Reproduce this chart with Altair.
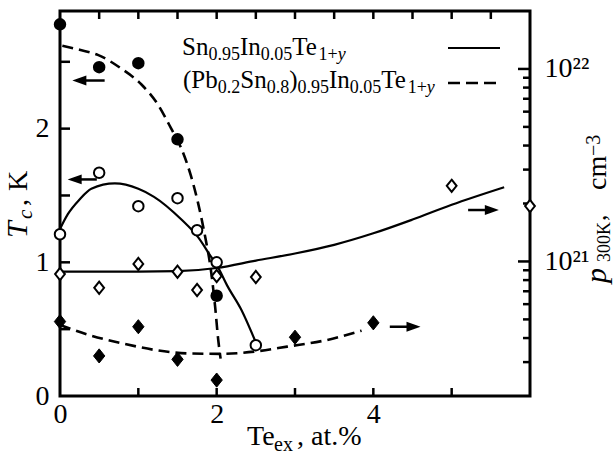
import altair as alt
import pandas as pd

FONT = "Liberation Serif"

# ---------------- data ----------------
# Tc (left axis) — (Pb0.2Sn0.8)0.95In0.05Te1+y, filled circles
tc_pbsn_x = [0.0, 0.5, 1.0, 1.5, 2.0]
tc_pbsn_y = [2.78, 2.46, 2.49, 1.92, 0.75]
# Tc (left axis) — Sn0.95In0.05Te1+y, open circles
tc_sn_x = [0.0, 0.5, 1.0, 1.5, 1.75, 2.0, 2.5]
tc_sn_y = [1.21, 1.67, 1.42, 1.48, 1.24, 1.00, 0.38]
# p300K (right axis) — Sn sample, open diamonds
p_sn_x = [0.0, 0.5, 1.0, 1.5, 1.75, 2.0, 2.5, 5.0, 6.0]
p_sn_y = [8.6e20, 7.3e20, 9.7e20, 8.85e20, 7.1e20, 8.4e20, 8.3e20, 2.47e21, 1.94e21]
# p300K (right axis) — PbSn sample, filled diamonds
p_pbsn_x = [0.0, 0.5, 1.0, 1.5, 2.0, 3.0, 4.0]
p_pbsn_y = [4.87e20, 3.23e20, 4.58e20, 3.10e20, 2.42e20, 4.04e20, 4.80e20]

# guide curves
fit_tc_pbsn_x = [0.03, 0.25, 0.49, 0.78, 1.04, 1.25, 1.42, 1.55, 1.67, 1.76, 1.86, 1.92, 1.98, 2.02, 2.05]
fit_tc_pbsn_y = [2.62, 2.59, 2.55, 2.45, 2.33, 2.18, 2.00, 1.85, 1.65, 1.45, 1.17, 0.97, 0.67, 0.42, 0.28]
fit_tc_sn_x = [0.0, 0.1, 0.25, 0.4, 0.7, 1.0, 1.2, 1.55, 1.76, 1.93, 2.01, 2.14, 2.31, 2.5]
fit_tc_sn_y = [1.25, 1.36, 1.47, 1.55, 1.59, 1.55, 1.49, 1.32, 1.19, 1.04, 0.97, 0.82, 0.65, 0.40]
fit_p_sn_x = [0.0, 0.5, 1.0, 1.5, 2.0, 2.5, 3.0, 3.5, 4.0, 4.5, 5.0, 5.67]
fit_p_sn_y = [8.85e20, 8.85e20, 8.85e20, 8.9e20, 9.25e20, 1.01e21, 1.1e21, 1.22e21, 1.4e21, 1.65e21, 1.97e21, 2.43e21]
fit_p_pbsn_x = [0.0, 0.37, 0.79, 1.21, 1.63, 2.06, 2.48, 2.9, 3.41, 3.85]
fit_p_pbsn_y = [4.68e20, 4.15e20, 3.76e20, 3.47e20, 3.33e20, 3.31e20, 3.40e20, 3.61e20, 3.91e20, 4.37e20]

# arrows (shaft start/end; the head sits at the end)
tc_arrows_x0 = [0.57, 0.47]
tc_arrows_x1 = [0.26, 0.20]
tc_arrows_y = [2.36, 1.62]
p_arrows_x0 = [5.21, 4.21]
p_arrows_x1 = [5.50, 4.50]
p_arrows_y = [1.85e21, 4.58e20]

# tick positions
x_labels = [0, 2, 4]
x_ticks_bottom = [1, 2, 3, 4, 5]
x_ticks_top = [0.5, 1, 1.5, 2, 2.5, 3, 3.5, 4, 4.5, 5, 5.5]
tc_labels = [0, 1, 2]
tc_ticks = [0.5, 1, 1.5, 2, 2.5]
p_labels = [1e21, 1e22]
p_minor = [3e20, 4e20, 5e20, 6e20, 7e20, 8e20, 9e20,
           2e21, 3e21, 4e21, 5e21, 6e21, 7e21, 8e21, 9e21]

# ---------------- layout constants ----------------
W, H = 470, 385
XDOM = [0, 6]
TDOM = [0, 2.88]
PDOM = [2e20, 2e22]
# tick lengths in pixels, turned into data units through the axis spans
TICK_V = 8 * (TDOM[1] - TDOM[0]) / H
TICK_L = 10 * (XDOM[1] - XDOM[0]) / W
TICK_RMIN = 7 * (XDOM[1] - XDOM[0]) / W
TICK_RMAJ = 12 * (XDOM[1] - XDOM[0]) / W

xs = alt.Scale(domain=XDOM, nice=False, zero=False)
ts = alt.Scale(domain=TDOM, nice=False, zero=False)
ps = alt.Scale(type="log", domain=PDOM, nice=False)

x_axis = alt.Axis(values=x_labels, title=None, labelFont=FONT, labelFontSize=28,
                  labelColor="black", domain=False, ticks=False, grid=False,
                  labelPadding=4, labelFlush=False, format="d")
t_axis = alt.Axis(values=tc_labels, title=None, labelFont=FONT, labelFontSize=28,
                  labelColor="black", domain=False, ticks=False, grid=False,
                  labelPadding=11, labelFlush=False, format="d")
p_axis = alt.Axis(orient="right", values=p_labels, title=None, labelFont=FONT,
                  labelFontSize=28, labelColor="black", domain=False, ticks=False,
                  grid=False, labelPadding=14, labelFlush=False, labelAlign="left",
                  labelExpr="datum.value > 5e21 ? '10²²' : '10²¹'")


def X(f="x"):
    return alt.X(f"{f}:Q", scale=xs, axis=x_axis)


def T(f="T"):
    return alt.Y(f"{f}:Q", scale=ts, axis=t_axis)


def P(f="p"):
    return alt.Y(f"{f}:Q", scale=ps, axis=p_axis)


def df(x, y, name):
    return pd.DataFrame({"x": x, name: y})


DIAMOND = "M0,-1L0.8,0L0,1L-0.8,0Z"
HEAD_L = "M-1,0L1,-0.7L1,0.7Z"
HEAD_R = "M1,0L-1,-0.7L-1,0.7Z"
TICK = dict(color="black", strokeWidth=2.5)

# tick segment tables (start and end of each tick in data units)
ticks_bottom = pd.DataFrame({"x": x_ticks_bottom, "T": TDOM[0], "T2": TDOM[0] + TICK_V})
ticks_top = pd.DataFrame({"x": x_ticks_top, "T": TDOM[1], "T2": TDOM[1] - TICK_V})
ticks_left = pd.DataFrame({"T": tc_ticks, "x": XDOM[0], "x2": XDOM[0] + TICK_L})
ticks_right = pd.DataFrame({
    "p": p_minor + p_labels,
    "x": XDOM[1],
    "x2": [XDOM[1] - TICK_RMIN] * len(p_minor) + [XDOM[1] - TICK_RMAJ] * len(p_labels),
})

# ---------- Tc group ----------
tc_layers = []
tc_layers.append(alt.Chart(ticks_bottom).mark_rule(**TICK).encode(x=X(), y=T(), y2="T2:Q"))
tc_layers.append(alt.Chart(ticks_top).mark_rule(**TICK).encode(x=X(), y=T(), y2="T2:Q"))
tc_layers.append(alt.Chart(ticks_left).mark_rule(**TICK).encode(x=X(), x2="x2:Q", y=T()))
tc_layers.append(alt.Chart(df(fit_tc_pbsn_x, fit_tc_pbsn_y, "T")).mark_line(
    color="black", strokeWidth=2.6, strokeDash=[11, 6], interpolate="monotone").encode(x=X(), y=T()))
tc_layers.append(alt.Chart(df(fit_tc_sn_x, fit_tc_sn_y, "T")).mark_line(
    color="black", strokeWidth=2.2, interpolate="monotone").encode(x=X(), y=T()))
tc_layers.append(alt.Chart(df(tc_pbsn_x, tc_pbsn_y, "T")).mark_point(
    shape="circle", filled=True, fill="black", stroke="black", size=110, opacity=1).encode(x=X(), y=T()))
tc_layers.append(alt.Chart(df(tc_sn_x, tc_sn_y, "T")).mark_point(
    shape="circle", filled=True, fill="white", stroke="black", strokeWidth=2, size=110, opacity=1).encode(x=X(), y=T()))
tca = pd.DataFrame({"x": tc_arrows_x0, "x2": tc_arrows_x1, "T": tc_arrows_y})
tc_layers.append(alt.Chart(tca).mark_rule(color="black", strokeWidth=2.5).encode(
    x=X(), x2="x2:Q", y=T()))
tc_layers.append(alt.Chart(tca).mark_point(shape=HEAD_L, filled=True, fill="black",
                                          stroke="black", size=100, opacity=1).encode(x=X("x2"), y=T()))

# ---------- p group ----------
p_layers = []
p_layers.append(alt.Chart(ticks_right).mark_rule(**TICK).encode(x=X(), x2="x2:Q", y=P()))
p_layers.append(alt.Chart(df(fit_p_sn_x, fit_p_sn_y, "p")).mark_line(
    color="black", strokeWidth=2.2, interpolate="monotone").encode(x=X(), y=P()))
p_layers.append(alt.Chart(df(fit_p_pbsn_x, fit_p_pbsn_y, "p")).mark_line(
    color="black", strokeWidth=2.6, strokeDash=[11, 6], interpolate="monotone").encode(x=X(), y=P()))
p_layers.append(alt.Chart(df(p_sn_x, p_sn_y, "p")).mark_point(
    shape=DIAMOND, filled=True, fill="white", stroke="black", strokeWidth=2, size=150, opacity=1).encode(x=X(), y=P()))
p_layers.append(alt.Chart(df(p_pbsn_x, p_pbsn_y, "p")).mark_point(
    shape=DIAMOND, filled=True, fill="black", stroke="black", strokeWidth=1, size=200, opacity=1).encode(x=X(), y=P()))
pa = pd.DataFrame({"x": p_arrows_x0, "x2": p_arrows_x1, "p": p_arrows_y})
p_layers.append(alt.Chart(pa).mark_rule(color="black", strokeWidth=2.5).encode(
    x=X(), x2="x2:Q", y=P()))
p_layers.append(alt.Chart(pa).mark_point(shape=HEAD_R, filled=True, fill="black",
                                        stroke="black", size=100, opacity=1).encode(x=X("x2"), y=P()))

# ---------- text pieces (legend, axis titles) ----------
TIMES = {"0": 500, "1": 500, "2": 500, "3": 500, "4": 500, "5": 500, "6": 500, "7": 500,
         "8": 500, "9": 500, ".": 250, ",": 250, " ": 250, "+": 564, "(": 333, ")": 333,
         "%": 833, "S": 556, "n": 500, "I": 333, "T": 611, "e": 444, "y": 500, "P": 556,
         "b": 500, "K": 722, "c": 444, "m": 778, "a": 444, "t": 278, "x": 500, "p": 500}
TIMES_I = {"y": 444, "T": 556, "c": 444, "p": 500}
one = pd.DataFrame({"k": [0]})


def tw(s, size, italic):
    tab = TIMES_I if italic else TIMES
    return sum(tab.get(ch, TIMES.get(ch, 500)) for ch in s) * size / 1000.0


def text_piece(text, size, x0, y0, dx, dy, italic=False, angle=0):
    kw = dict(text=text, font=FONT, fontSize=size, align="left", baseline="alphabetic",
              dx=dx, dy=dy, color="black")
    if italic:
        kw["fontStyle"] = "italic"
    if angle:
        kw["angle"] = angle
    return alt.Chart(one).mark_text(**kw).encode(x=alt.value(x0), y=alt.value(y0))


def run(parts, x0, y0):
    out, off = [], 0.0
    for text, size, dy, italic in parts:
        out.append(text_piece(text, size, x0, y0, off, dy, italic))
        off += tw(text, size, italic)
    return out


BIG, SUB = 25, 18
legend1 = [("Sn", BIG, 0, False), ("0.95", SUB, 5, False), ("In", BIG, 0, False),
           ("0.05", SUB, 5, False), ("Te", BIG, 0, False), ("1+", SUB, 5, False), ("y", SUB, 5, True)]
legend2 = [("(Pb", BIG, 0, False), ("0.2", SUB, 5, False), ("Sn", BIG, 0, False),
           ("0.8", SUB, 5, False), (")", BIG, 0, False), ("0.95", SUB, 5, False),
           ("In", BIG, 0, False), ("0.05", SUB, 5, False), ("Te", BIG, 0, False),
           ("1+", SUB, 5, False), ("y", SUB, 5, True)]

txt_layers = run(legend1, 122, 44) + run(legend2, 123, 77)
# legend line samples
txt_layers.append(alt.Chart(one).mark_rule(color="black", strokeWidth=2.2).encode(
    x=alt.value(388), x2=alt.value(440), y=alt.value(37)))
txt_layers.append(alt.Chart(one).mark_rule(color="black", strokeWidth=2.6, strokeDash=[12, 6]).encode(
    x=alt.value(388), x2=alt.value(442), y=alt.value(72)))

# x-axis title: Te_ex, at.%
BX, BY = 187, 434
txt_layers += [
    text_piece("Te", 28, BX, BY, 0, 0),
    text_piece("ex", 20, BX, BY, 27, 6),
    text_piece(",", 28, BX, BY, 50, 0),
    text_piece("at.%", 28, BX, BY, 64, 0),
]
# left title: T_c, K (rotated)
txt_layers += [
    text_piece("T", 30, -33, 227, 0, 0, True, 270),
    text_piece("c", 21, -33, 227, 19, 5, True, 270),
    text_piece(",", 28, -33, 227, 32, 0, False, 270),
    text_piece("K", 28, -33, 227, 47, 0, False, 270),
]
# right title: p_300K, cm^-3 (rotated)
RX, RY = 546, 272
txt_layers += [
    text_piece("p", 30, RX, RY, 0, 0, True, 270),
    text_piece("300K", 18, RX, RY, 21, 4, False, 270),
    text_piece(",", 26, RX, RY, 62, 0, False, 270),
    text_piece("cm", 28, RX, RY, 93, 0, False, 270),
    text_piece("−3", 20, RX, RY, 127, -6, False, 270),
]

tc_group = alt.layer(*tc_layers)
p_group = alt.layer(*p_layers)
txt_group = alt.layer(*txt_layers)

chart = alt.layer(tc_group, p_group, txt_group).resolve_scale(y="independent").properties(
    width=W, height=H,
    padding={"left": 60, "top": 11, "right": 86, "bottom": 62},
    autosize=alt.AutoSizeParams(type="none"),
    background="white",
).configure_view(stroke="black", strokeWidth=3)

chart.save("out.html", embed_options={"renderer": "svg", "actions": False})
